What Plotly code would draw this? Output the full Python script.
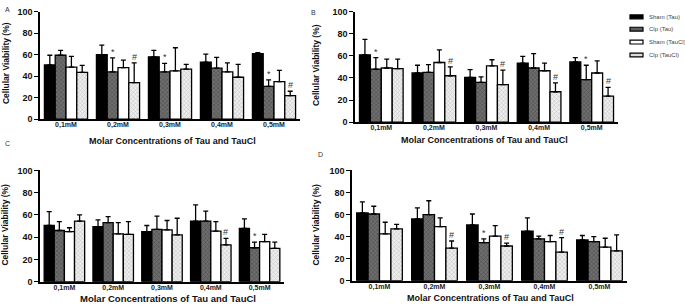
import plotly.graph_objects as go

categories = ["0,1mM", "0,2mM", "0,3mM", "0,4mM", "0,5mM"]
series_names = ["Sham (Tau)", "Clp (Tau)", "Sham (TauCl)", "Clp (TauCl)"]
x_title = "Molar Concentrations of Tau and TauCl"
y_title = "Cellular Viability (%)"

# Panel A
A_sham_tau = [50.5, 60, 58, 53, 61]
A_clp_tau = [59.5, 44, 44, 47.5, 30.5]
A_sham_taucl = [48.5, 48, 45, 44, 35]
A_clp_taucl = [43.5, 34, 46.5, 39, 22]
A_sham_tau_err = [59.5, 69, 64, 60.5, 62]
A_clp_tau_err = [64, 57, 52, 57.5, 36.5]
A_sham_taucl_err = [58.5, 55, 66.5, 52.5, 45.5]
A_clp_taucl_err = [50, 52.5, 51, 51, 26]
A_clp_tau_mark = ["", "*", "*", "", "*"]
A_clp_taucl_mark = ["", "#", "", "", "#"]

# Panel B
B_sham_tau = [61, 44.5, 40.5, 53.5, 54.5]
B_clp_tau = [48, 45, 36, 49, 38.5]
B_sham_taucl = [49, 54, 51, 46.5, 44.5]
B_clp_taucl = [48.5, 42, 34, 27.5, 23.5]
B_sham_tau_err = [75, 51.5, 47.5, 59.5, 58.5]
B_clp_tau_err = [58.5, 52, 41, 62, 51.5]
B_sham_taucl_err = [57, 65.5, 56.5, 53.5, 55.5]
B_clp_taucl_err = [57, 50, 47, 35.5, 31.5]
B_clp_tau_mark = ["*", "", "", "", "*"]
B_clp_taucl_mark = ["", "#", "#", "#", "#"]

# Panel C
C_sham_tau = [50.5, 49.5, 45, 54.5, 48]
C_clp_tau = [46, 53, 47, 54.5, 30.5]
C_sham_taucl = [45, 43, 46.5, 45.5, 36]
C_clp_taucl = [54.5, 42.5, 42, 33, 30]
C_sham_tau_err = [63, 55.5, 50.5, 69, 56.5]
C_clp_tau_err = [54, 58.5, 59, 63.5, 35.5]
C_sham_taucl_err = [48.5, 53, 55, 54, 42.5]
C_clp_taucl_err = [60, 54, 57, 39, 35.5]
C_clp_tau_mark = ["", "", "", "", "*"]
C_clp_taucl_mark = ["", "", "", "#", ""]

# Panel D
D_sham_tau = [61.5, 56, 50.5, 45, 37]
D_clp_tau = [60.5, 60, 34.5, 38, 35.5]
D_sham_taucl = [42.5, 49, 40.5, 35.5, 30.5]
D_clp_taucl = [47, 29.5, 31.5, 26, 27]
D_sham_tau_err = [71.5, 66, 60.5, 57, 41]
D_clp_tau_err = [67.5, 72.5, 38, 40.5, 40]
D_sham_taucl_err = [53, 57, 50, 41, 38.5]
D_clp_taucl_err = [51, 36, 34, 39, 41.5]
D_clp_tau_mark = ["", "", "*", "", ""]
D_clp_taucl_mark = ["", "#", "#", "#", ""]

panels = [
    ("A", [A_sham_tau, A_clp_tau, A_sham_taucl, A_clp_taucl],
     [A_sham_tau_err, A_clp_tau_err, A_sham_taucl_err, A_clp_taucl_err],
     [None, A_clp_tau_mark, None, A_clp_taucl_mark]),
    ("B", [B_sham_tau, B_clp_tau, B_sham_taucl, B_clp_taucl],
     [B_sham_tau_err, B_clp_tau_err, B_sham_taucl_err, B_clp_taucl_err],
     [None, B_clp_tau_mark, None, B_clp_taucl_mark]),
    ("C", [C_sham_tau, C_clp_tau, C_sham_taucl, C_clp_taucl],
     [C_sham_tau_err, C_clp_tau_err, C_sham_taucl_err, C_clp_taucl_err],
     [None, C_clp_tau_mark, None, C_clp_taucl_mark]),
    ("D", [D_sham_tau, D_clp_tau, D_sham_taucl, D_clp_taucl],
     [D_sham_tau_err, D_clp_tau_err, D_sham_taucl_err, D_clp_taucl_err],
     [None, D_clp_tau_mark, None, D_clp_taucl_mark]),
]

W, H = 685, 307
# pixel layout of each panel: (x0, x1, ytop, ybottom)
boxes = [(40, 300, 7, 118), (355, 618, 7, 121), (40, 284, 171, 286), (352, 627, 171, 285)]
letter_pos = [(7, 5), (313, 8), (7, 143), (320, 155)]
xtitle_pos = [(172, 141, 9), (484, 139.5, 9), (168, 303, 9.5), (490, 303, 9)]
ytitle_pos = [(6, 60, 8.5), (316, 62, 8.5), (5, 227, 8.5), (316, 227, 8.5)]

styles = [
    dict(color="#000000", pattern=None),
    dict(color="#5e5e5e", pattern=dict(shape="x", fgcolor="#2a2a2a", bgcolor="#6e6e6e", size=3, solidity=0.35)),
    dict(color="#ffffff", pattern=None),
    dict(color="#e6e6e6", pattern=dict(shape="x", fgcolor="#8a8a8a", bgcolor="#eeeeee", size=3, solidity=0.3)),
]
legend_fill = ["#000000", "#5e5e5e", "#ffffff", "#dddddd"]

BARGAP = 0.17
fig = go.Figure()
font_b = "Liberation Sans"
for pi, (letter, vals, errs, marks) in enumerate(panels):
    ax = "" if pi == 0 else str(pi + 1)
    xa, ya = "x" + ax, "y" + ax
    for si in range(4):
        st = styles[si]
        marker = dict(color=st["color"], line=dict(color="#000000", width=1.3))
        if st["pattern"]:
            marker["pattern"] = st["pattern"]
        fig.add_trace(go.Bar(
            x=categories, y=vals[si], name=series_names[si],
            xaxis=xa, yaxis=ya, marker=marker, showlegend=False,
            error_y=dict(type="data", symmetric=False,
                         array=[e - v for e, v in zip(errs[si], vals[si])],
                         arrayminus=[0] * len(vals[si]),
                         color="#000000", thickness=1.3, width=2.5),
        ))
        if marks[si]:
            bw = (1 - BARGAP) / 4
            off = -(1 - BARGAP) / 2 + bw * (si + 0.5)
            for ci, m in enumerate(marks[si]):
                if m:
                    fig.add_annotation(x=ci + off, y=errs[si][ci], xref=xa, yref=ya,
                                       text=m, showarrow=False, yanchor="bottom", yshift=-1,
                                       font=dict(family=font_b, size=9, color="#333"))
    x0, x1, yt, yb = boxes[pi]
    fig.layout["xaxis" + ax] = dict(
        domain=[x0 / W, x1 / W], anchor=ya, type="category", range=[-0.5, 4.5],
        showline=True, linecolor="#000", linewidth=1.5, ticks="", showgrid=False,
        ticklabelstandoff=-2,
        tickfont=dict(family=font_b, size=7, color="#222", weight="bold"),
    )
    fig.layout["yaxis" + ax] = dict(
        domain=[1 - yb / H, 1 - yt / H], anchor=xa, range=[0, 100],
        tickvals=[0, 20, 40, 60, 80, 100],
        showline=True, linecolor="#000", linewidth=1.5, ticks="outside", ticklen=4,
        tickwidth=1.3, tickcolor="#000", showgrid=False, zeroline=False,
        tickfont=dict(family=font_b, size=9, color="#111", weight="bold"),
    )
    lx, ly = letter_pos[pi]
    fig.add_annotation(x=lx / W, y=1 - ly / H, xref="paper", yref="paper", text=letter,
                       showarrow=False, xanchor="center", yanchor="middle",
                       font=dict(family=font_b, size=7, color="#333"))
    tx, ty, ts = xtitle_pos[pi]
    fig.add_annotation(x=tx / W, y=1 - ty / H, xref="paper", yref="paper",
                       text="<b>" + x_title + "</b>", showarrow=False,
                       xanchor="center", yanchor="middle",
                       font=dict(family=font_b, size=ts, color="#111"))
    tx, ty, ts = ytitle_pos[pi]
    fig.add_annotation(x=tx / W, y=1 - ty / H, xref="paper", yref="paper",
                       text="<b>" + y_title + "</b>", showarrow=False, textangle=-90,
                       xanchor="center", yanchor="middle",
                       font=dict(family=font_b, size=ts, color="#111"))

# legend (drawn as swatches + text)
leg_x0, leg_x1, leg_tx = 630, 643, 647
leg_y = [12.3, 25, 38.3, 51.7]
for si, name in enumerate(series_names):
    yc = leg_y[si]
    fig.add_shape(type="rect", xref="paper", yref="paper",
                  x0=leg_x0 / W, x1=leg_x1 / W, y0=1 - (yc + 2) / H, y1=1 - (yc - 2) / H,
                  fillcolor=legend_fill[si], line=dict(color="#000", width=1.2))
    fig.add_annotation(x=leg_tx / W, y=1 - yc / H, xref="paper", yref="paper", text=name,
                       showarrow=False, xanchor="left", yanchor="middle",
                       font=dict(family=font_b, size=6, color="#444"))

fig.update_layout(
    width=W, height=H, margin=dict(l=0, r=0, t=0, b=0),
    paper_bgcolor="#ffffff", plot_bgcolor="#ffffff",
    barmode="group", bargap=BARGAP, bargroupgap=0, showlegend=False,
)
fig.write_html("out.html", config={"displayModeBar": False},
               post_script="document.body.style.margin='0px';document.body.style.overflow='hidden';")
